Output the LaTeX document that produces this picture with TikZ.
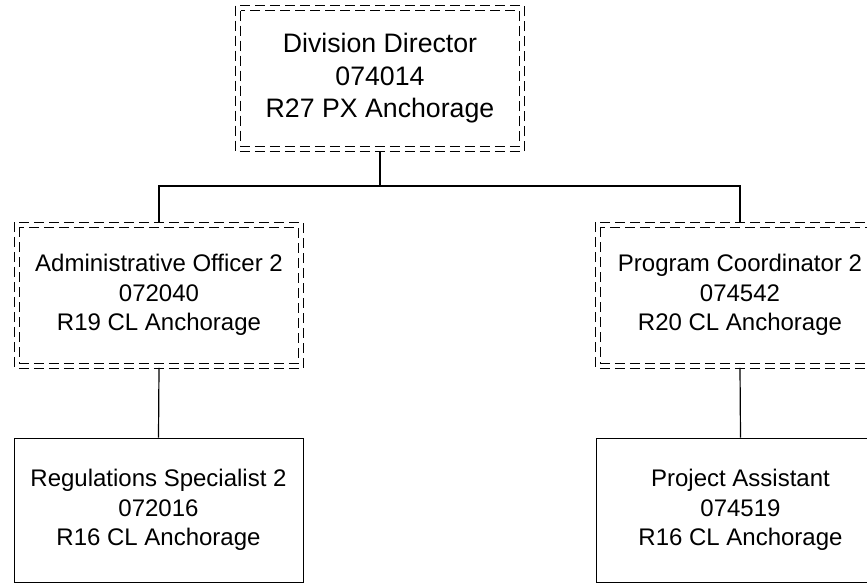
\documentclass[tikz,border=0pt]{standalone}
\usepackage{fontspec}
\setmainfont{Liberation Sans}
\usepackage{xcolor}

\begin{document}
\begin{tikzpicture}[x=1pt,y=-1pt,
    post/.style={draw,line width=0.8pt,minimum width=289pt,minimum height=144pt,
      align=center,font=\fontsize{24}{29.5}\selectfont,inner sep=0pt},
    vacant/.style={post,draw=none,minimum width=288pt,minimum height=145pt},
    dashline/.style={line width=0.7pt,dash pattern=on 10pt off 5pt},
    link/.style={line width=1.2pt}]
    \useasboundingbox (0,0) rectangle (867,584);
    \coordinate (bar) at (380,186);
    \node[vacant,font=\fontsize{26.7}{32.5}\selectfont] (director) at (380,78.5) {Division Director\\074014\\R27 PX Anchorage};
    \node[vacant] (admin) at (159,295) {Administrative Officer 2\\072040\\R19 CL Anchorage};
    \node[vacant] (progcoord) at (740,295) {Program Coordinator 2\\074542\\R20 CL Anchorage};
    \node[post] (regspec) at (158.5,510) {Regulations Specialist 2\\072016\\R16 CL Anchorage};
    \node[post] (projasst) at (740.5,510) {Project Assistant\\074519\\R16 CL Anchorage};
    % double dashed frames of the vacant posts
    \foreach \n in {director,admin,progcoord} {
      \draw[dashline] (\n.north west) rectangle (\n.south east);
      \draw[dashline] ([shift={(5pt,-5pt)}]\n.north west) rectangle ([shift={(-5pt,5pt)}]\n.south east);
    }
    \draw[link] (director.south) -- (bar);
    \draw[link] (bar) -| (admin.north);
    \draw[link] (bar) -| (progcoord.north);
    \draw[link] (admin.south) -- (regspec.north);
    \draw[link] (progcoord.south) -- (projasst.north);
  \end{tikzpicture}
\end{document}
